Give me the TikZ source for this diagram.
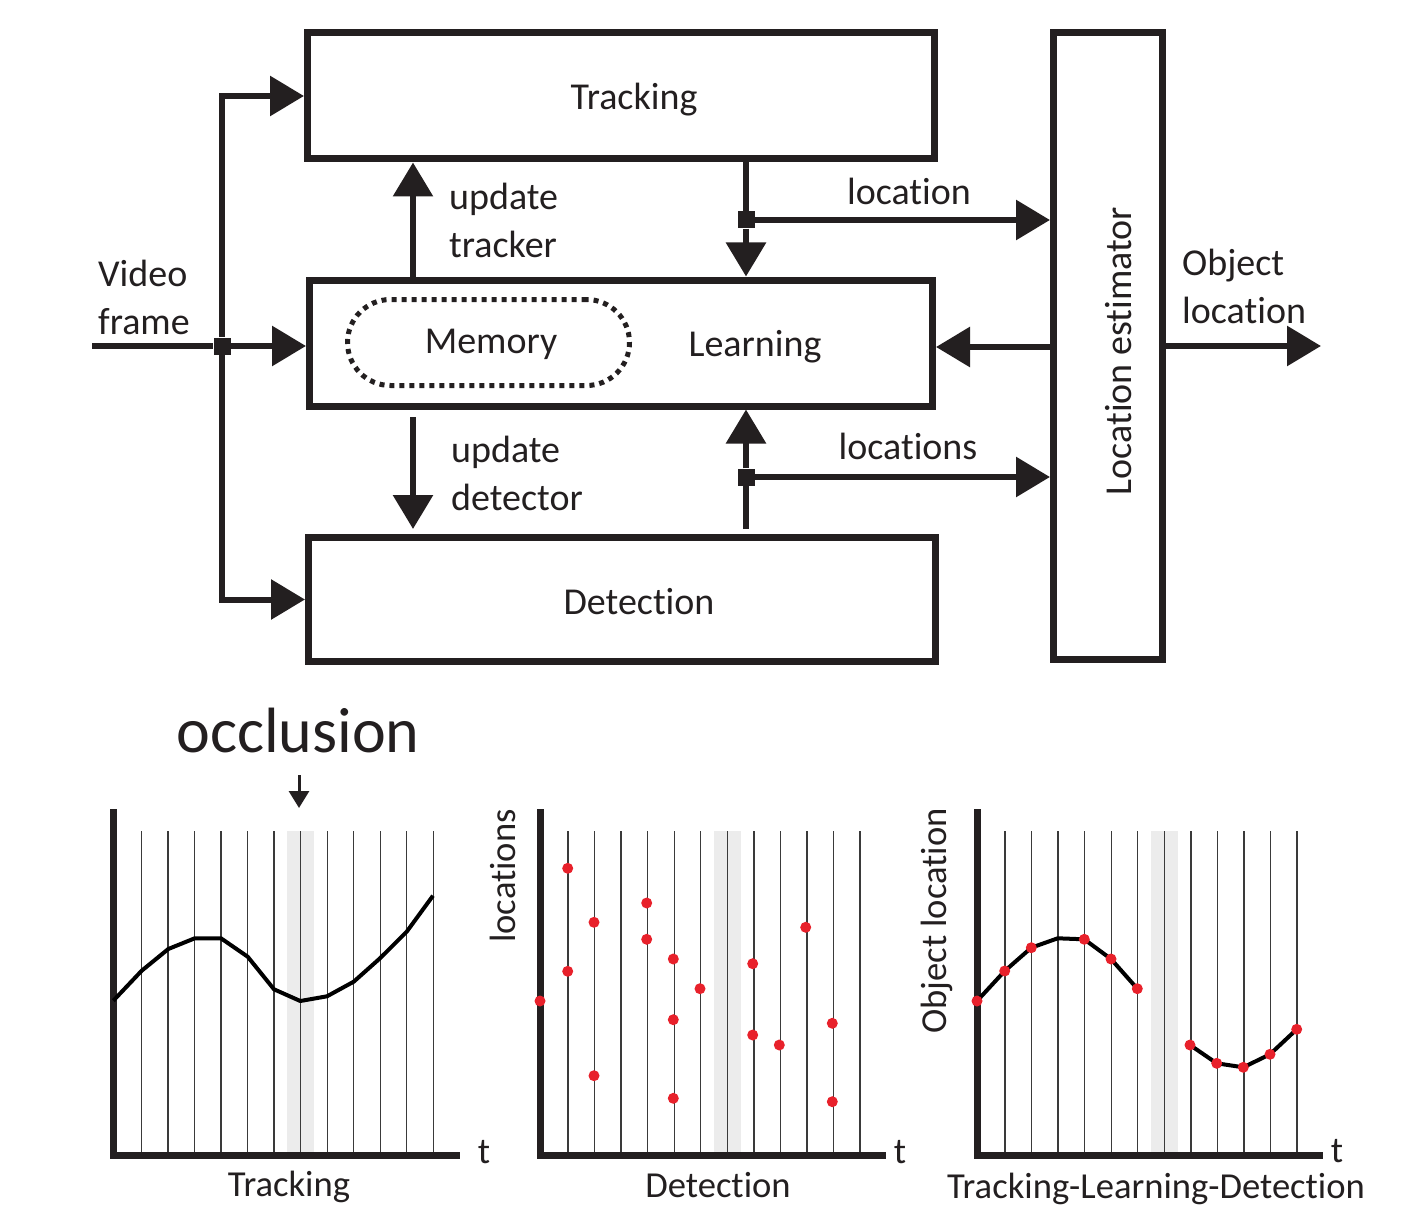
\documentclass[tikz,border=0pt]{standalone}
\usepackage{fontspec}
\setmainfont{Carlito}[Ligatures=NoCommon]
\usetikzlibrary{arrows.meta}
\definecolor{ink}{HTML}{231F20}
\definecolor{dotred}{HTML}{E8212B}
\definecolor{bandgray}{HTML}{ECECEC}
\definecolor{gridgray}{HTML}{3A3A3A}
\begin{document}
\begin{tikzpicture}[x=1pt,y=-1pt,
  box/.style={draw=ink, line width=7pt, inner sep=0pt},
  lbl/.style={text=ink, font=\fontsize{38}{45}\selectfont, inner sep=0pt},
  plbl/.style={text=ink, font=\fontsize{36.6}{43}\selectfont, inner sep=0pt},
  arr/.style={draw=ink, line width=6pt, -{Triangle[length=34pt,width=39pt]}},
  plainline/.style={draw=ink, line width=6pt},
  jsq/.style={fill=ink, minimum size=17pt, inner sep=0pt},
  gridline/.style={draw=gridgray, line width=1.3pt},
  axisline/.style={draw=ink, line width=7pt, line join=miter},
  curve/.style={draw=black, line width=4pt, line join=round},
  reddot/.style={fill=dotred}
]
\useasboundingbox (0,0) rectangle (1403,1209);

% ---------- boxes ----------
\node[box, minimum width=627pt, minimum height=126pt] (trk) at (621,96) {};
\node[box, minimum width=623pt, minimum height=126pt] (lrn) at (621,343) {};
\node[box, minimum width=627pt, minimum height=124pt] (det) at (622,599.5) {};
\node[box, minimum width=109pt, minimum height=627pt] (le) at (1108,346) {};
\node[draw=ink, line width=5pt, dash pattern=on 5pt off 5pt, rounded corners=43pt,
      minimum width=282pt, minimum height=86pt, inner sep=0pt] (mem) at (488.5,342.5) {};

% ---------- texts ----------
\node[lbl, anchor=base] (tTrk) at (634,110) {Tracking};
\node[lbl, anchor=base] (tDet) at (639,614) {Detection};
\node[lbl, anchor=base] (tMem) at (491,353) {Memory};
\node[lbl, anchor=base] (tLrn) at (755,356) {Learning};
\node[lbl, anchor=base, rotate=90] (tLe) at (1131,351) {Location estimator};
\node[lbl, anchor=base west] (tV1) at (98,286) {Video};
\node[lbl, anchor=base west] (tV2) at (98,334) {frame};
\node[lbl, anchor=base west] (tU1) at (449,210) {update};
\node[lbl, anchor=base west] (tU2) at (449,258) {tracker};
\node[lbl, anchor=base west] (tD1) at (451,462) {update};
\node[lbl, anchor=base west] (tD2) at (451,510) {detector};
\node[lbl, anchor=base] (tLoc) at (909,205) {location};
\node[lbl, anchor=base] (tLocs) at (908,459) {locations};
\node[lbl, anchor=base west] (tO1) at (1182,275) {Object};
\node[lbl, anchor=base west] (tO2) at (1182,323) {location};

% ---------- junctions & coordinates ----------
\coordinate (vin) at (92,346);
\node[jsq] (j1) at (222,346) {};
\node[jsq] (j2) at (746,220) {};
\node[jsq] (j3) at (746,477) {};
\coordinate (ut) at (413,0);
\coordinate (tl) at (746,0);
\coordinate (ly) at (0,347);
\coordinate (ud0) at (413,417);
\coordinate (ud1) at (413,529);
\coordinate (dl0) at (746,529);
\coordinate (out) at (1321,346);

% ---------- connectors ----------
\draw[plainline] (vin) -- (j1);
\draw[arr] (j1) -- (j1 -| lrn.west);
\draw[arr] (j1) |- (trk.west);
\draw[arr] (j1) |- (det.west);
\draw[arr] (lrn.north -| ut) -- (trk.south -| ut);
\draw[plainline] (trk.south -| tl) -- (j2);
\draw[arr] (j2) -- (lrn.north -| tl);
\draw[arr] (j2) -- (j2 -| le.west);
\draw[arr] (le.west |- ly) -- (lrn.east |- ly);
\draw[arr] (ud0) -- (ud1);
\draw[plainline] (dl0) -- (j3);
\draw[arr] (j3) -- (lrn.south -| tl);
\draw[arr] (j3) -- (j3 -| le.west);
\draw[arr] (le.east |- out) -- (out);

% ---------- bottom plots ----------
\foreach \xo/\xr in {113.3/460, 540/886, 977/1323}{
  \fill[bandgray] (\xo+28+159.3-13.5,831) rectangle (\xo+28+159.3+13.5,1152);
  \foreach \k in {0,...,11}{
    \draw[gridline] (\xo+28+\k*26.55,831) -- (\xo+28+\k*26.55,1155);
  }
  \draw[axisline] (\xo,809) -- (\xo,1155) -- (\xr,1155);
}

% tracking curve
\draw[curve] (113.3,1000.7) -- (141.7,970.7) -- (168.3,949) -- (194.7,938.3) -- (221,938.3)
  -- (247.7,956.7) -- (274,989.3) -- (300.3,1001) -- (327,996.3) -- (353.7,981.7)
  -- (380,958.3) -- (406.7,931.7) -- (433,895.7);

% detection dots
\foreach \px/\py in {540/1001, 567.7/868.3, 567.7/971.3, 594/922.3, 594/1075.7,
  646.7/903, 646.7/939.3, 673.3/959, 673.3/1019.7, 673.3/1098.3, 700/988.7,
  752.7/963.7, 752.7/1035, 779.3/1045, 805.7/927.3, 832.3/1023.3, 832.3/1101.7}{
  \fill[reddot] (\px,\py) circle (5.5pt);
}

% TLD curves
\draw[curve] (977,1001) -- (1004.7,971) -- (1031.3,947.7) -- (1057.7,938.3) -- (1084.3,939.3)
  -- (1111,959) -- (1137.3,988.7);
\draw[curve] (1190,1045) -- (1216.7,1063.3) -- (1243.3,1067.3) -- (1270,1054.3) -- (1296.7,1029.3);
\foreach \px/\py in {977/1001, 1004.7/971, 1031.3/947.7, 1084.3/939.3, 1111/959, 1137.3/988.7,
  1190/1045, 1216.7/1063.3, 1243.3/1067.3, 1270/1054.3, 1296.7/1029.3}{
  \fill[reddot] (\px,\py) circle (5.5pt);
}

% plot labels
\node[text=ink, font=\fontsize{64}{72}\selectfont, inner sep=0pt, anchor=base] (occ) at (298,752) {occlusion};
\coordinate (occA) at (299,775);
\coordinate (occB) at (299,808);
\draw[draw=ink, line width=3pt, -{Triangle[length=17pt,width=20pt]}] (occA) -- (occB);

\node[plbl, anchor=base] (pl1) at (289,1196) {Tracking};
\node[plbl, anchor=base] (pl2) at (718,1197) {Detection};
\node[plbl, anchor=base] (pl3) at (1156,1198) {Tracking-Learning-Detection};
\node[plbl, anchor=base] (t1) at (484,1163) {t};
\node[plbl, anchor=base] (t2) at (900,1163) {t};
\node[plbl, anchor=base] (t3) at (1337,1162) {t};
\node[plbl, anchor=base, rotate=90] (yl2) at (515,876) {locations};
\node[plbl, anchor=base, rotate=90] (yl3) at (946,921) {Object location};
\end{tikzpicture}
\end{document}
